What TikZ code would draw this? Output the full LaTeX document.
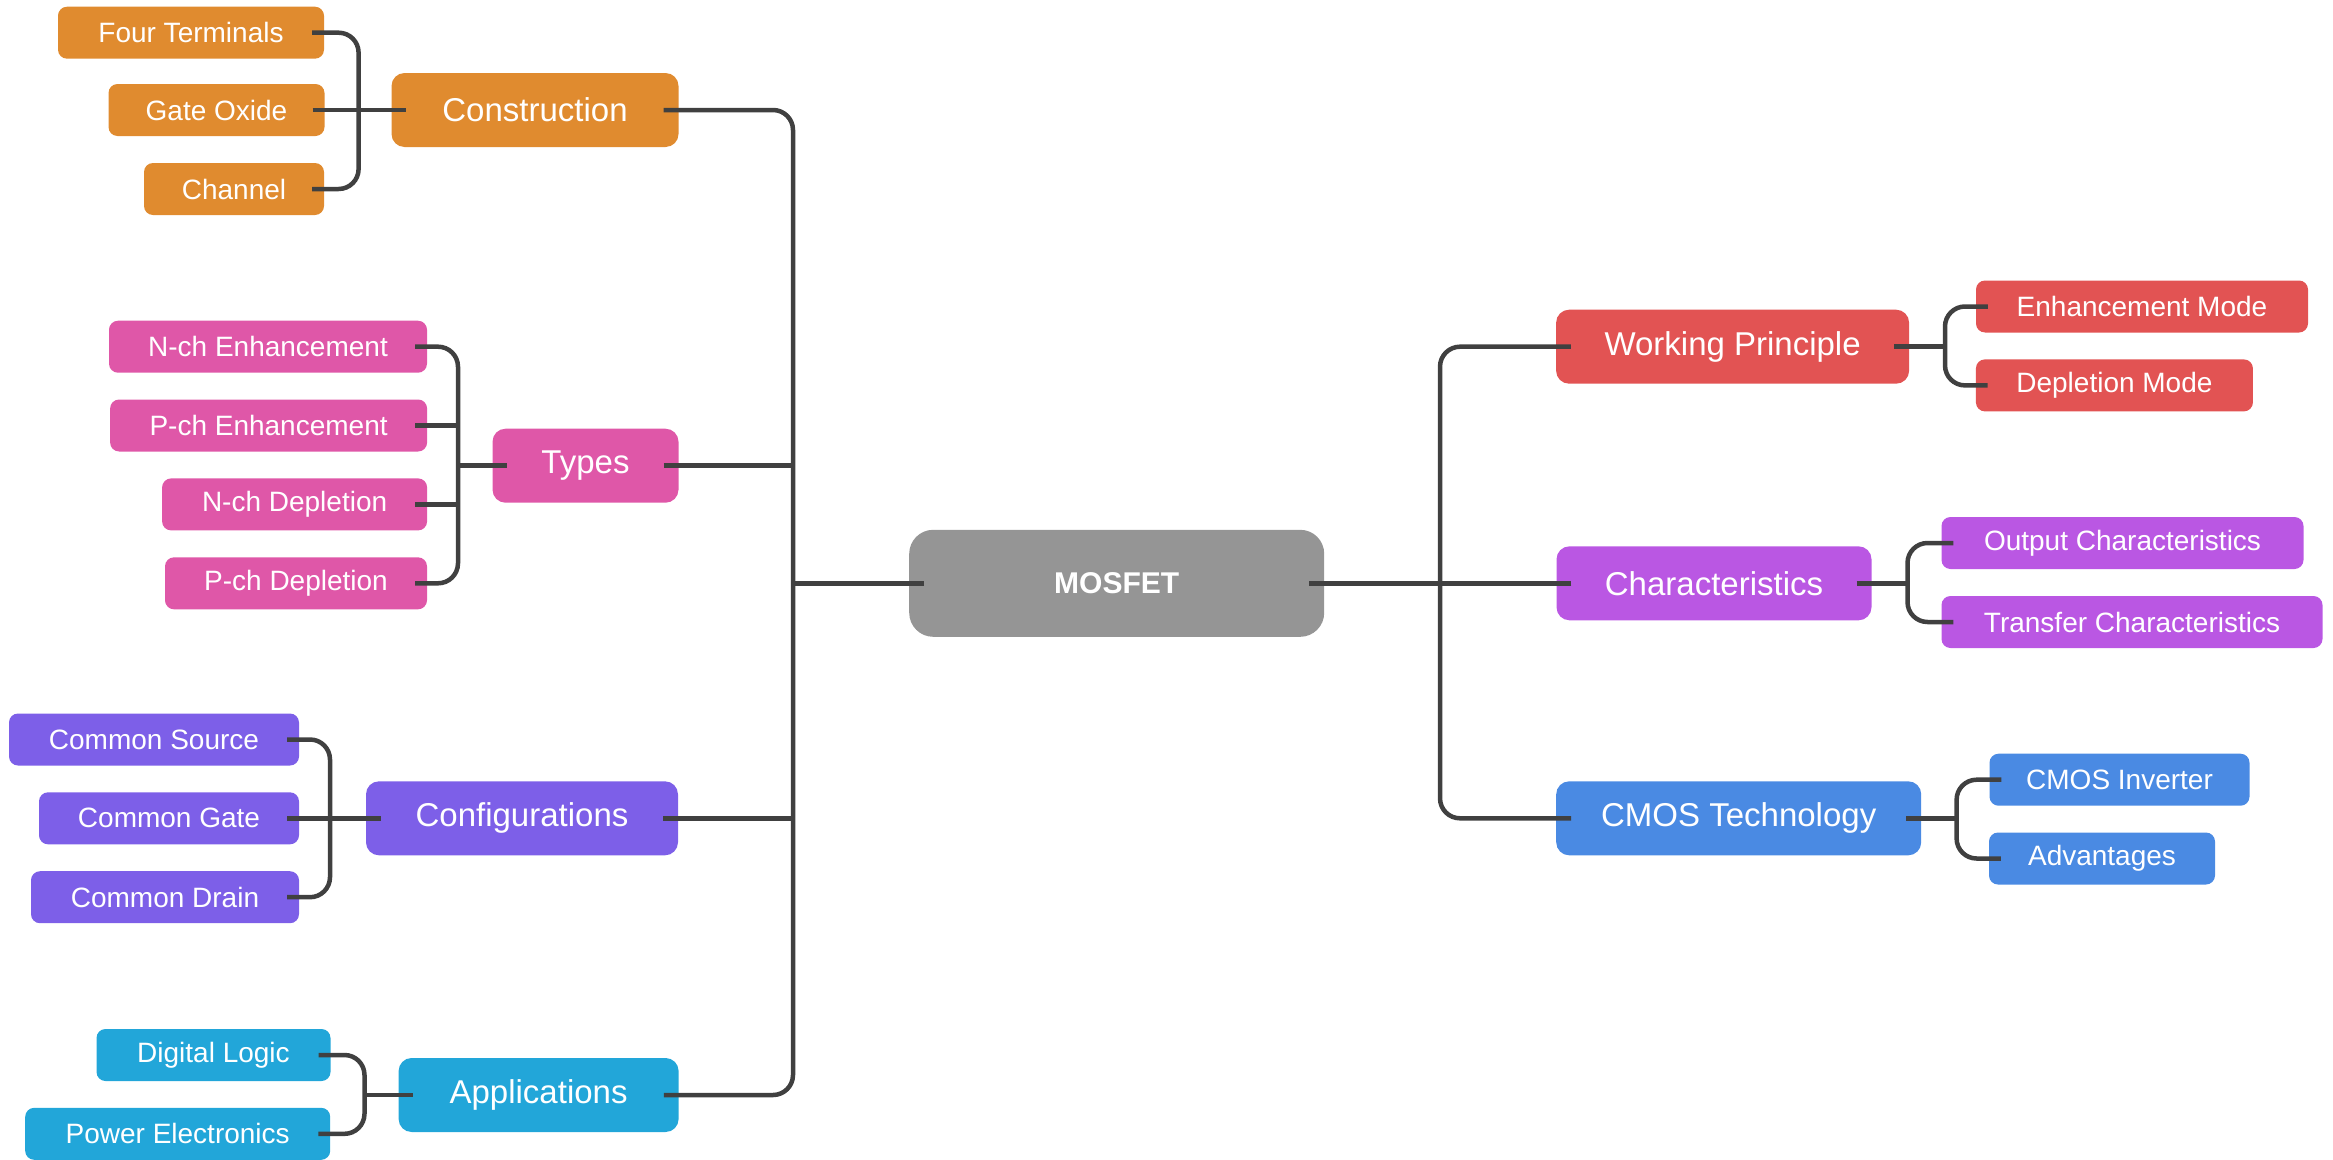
\documentclass[tikz,border=0pt]{standalone}
\usepackage{fontspec}
\setmainfont{Liberation Sans}
\usetikzlibrary{calc}
\definecolor{cOrange}{HTML}{E08B2F}
\definecolor{cPink}{HTML}{DF57A8}
\definecolor{cPurple}{HTML}{7D5FE8}
\definecolor{cCyan}{HTML}{22A6D9}
\definecolor{cRed}{HTML}{E25353}
\definecolor{cViolet}{HTML}{BA57E3}
\definecolor{cBlue}{HTML}{4A8AE3}
\definecolor{cGray}{HTML}{959595}
\definecolor{lineC}{HTML}{404040}
\begin{document}
\begin{tikzpicture}[x=1pt,y=-1pt,
  box/.style={rectangle, rounded corners=9pt, text=white, inner sep=0pt},
  leaf/.style={box, minimum height=52pt, font=\fontsize{28}{32}\selectfont},
  topic/.style={box, rounded corners=13pt, minimum height=74pt, font=\fontsize{33}{38}\selectfont},
  root/.style={box, rounded corners=24pt, minimum height=107pt, minimum width=415pt, fill=cGray, font=\fontsize{30}{34}\selectfont\bfseries},
  conn/.style={draw=lineC, line width=4.5pt, rounded corners=20pt}
]
\useasboundingbox (0,0) rectangle (2333,1159);

% ---------- root ----------
\node[root] (mos) at (1116.7,583.3) {MOSFET};

% ---------- left branch: construction ----------
\node[topic, fill=cOrange, minimum width=287pt] (con) at (535,110) {Construction};
\node[leaf, fill=cOrange, minimum width=266pt] (ft) at (191,32.7) {Four Terminals};
\node[leaf, fill=cOrange, minimum width=216pt] (go) at (216.5,110) {Gate Oxide};
\node[leaf, fill=cOrange, minimum width=180pt] (ch) at (234,189) {Channel};

% ---------- left branch: types ----------
\node[topic, fill=cPink, minimum width=186pt] (typ) at (585.5,465.7) {Types};
\node[leaf, fill=cPink, minimum width=318pt] (nce) at (268,346.7) {N-ch Enhancement};
\node[leaf, fill=cPink, minimum width=317pt] (pce) at (268.6,425.5) {P-ch Enhancement};
\node[leaf, fill=cPink, minimum width=265pt] (ncd) at (294.6,504.4) {N-ch Depletion};
\node[leaf, fill=cPink, minimum width=262pt] (pcd) at (296,583.3) {P-ch Depletion};

% ---------- left branch: configurations ----------
\node[topic, fill=cPurple, minimum width=312pt] (cfg) at (522,818.3) {Configurations};
\node[leaf, fill=cPurple, minimum width=290pt] (cs) at (154,739.5) {Common Source};
\node[leaf, fill=cPurple, minimum width=260pt] (cg) at (169,818.3) {Common Gate};
\node[leaf, fill=cPurple, minimum width=268pt] (cd) at (165,897.2) {Common Drain};

% ---------- left branch: applications ----------
\node[topic, fill=cCyan, minimum width=280pt] (app) at (538.6,1095) {Applications};
\node[leaf, fill=cCyan, minimum width=234pt] (dl) at (213.5,1055) {Digital Logic};
\node[leaf, fill=cCyan, minimum width=305pt] (pe) at (177.7,1133.8) {Power Electronics};

% ---------- right branch: working principle ----------
\node[topic, fill=cRed, minimum width=353pt] (wp) at (1732.6,346.7) {Working Principle};
\node[leaf, fill=cRed, minimum width=332pt] (em) at (2142,306.5) {Enhancement Mode};
\node[leaf, fill=cRed, minimum width=277pt] (dm) at (2114.4,385.4) {Depletion Mode};

% ---------- right branch: characteristics ----------
\node[topic, fill=cViolet, minimum width=315pt] (chr) at (1714,583.3) {Characteristics};
\node[leaf, fill=cViolet, minimum width=362pt] (oc) at (2122.5,543) {Output Characteristics};
\node[leaf, fill=cViolet, minimum width=381pt] (tc) at (2132,622) {Transfer Characteristics};

% ---------- right branch: CMOS ----------
\node[topic, fill=cBlue, minimum width=365pt] (cmos) at (1738.7,818.3) {CMOS Technology};
\node[leaf, fill=cBlue, minimum width=260pt] (inv) at (2119.5,779.7) {CMOS Inverter};
\node[leaf, fill=cBlue, minimum width=226pt] (adv) at (2102,858.5) {Advantages};

% ---------- spine and bracket positions ----------
\coordinate (lsp) at (793,583.3);
\coordinate (rsp) at (1440,583.3);
\coordinate (bCon) at (358.6,0);
\coordinate (bTyp) at (458,0);
\coordinate (bCfg) at (330,0);
\coordinate (bApp) at (364.5,0);
\coordinate (bWp) at (1945,0);
\coordinate (bChr) at (1907.5,0);
\coordinate (bCmos) at (1956.6,0);

% ---------- main spines ----------
\draw[conn] ($(con.east)+(-15,0)$) -- (con.east -| lsp) -- (app.east -| lsp) -- ($(app.east)+(-15,0)$);
\draw[conn] ($(typ.east)+(-15,0)$) -- (typ.east -| lsp);
\draw[conn] ($(cfg.east)+(-15,0)$) -- (cfg.east -| lsp);
\draw[conn] ($(mos.west)+(15,0)$) -- (lsp);

\draw[conn] ($(wp.west)+(15,0)$) -- (wp.west -| rsp) -- (cmos.west -| rsp) -- ($(cmos.west)+(15,0)$);
\draw[conn] ($(chr.west)+(15,0)$) -- (chr.west -| rsp);
\draw[conn] ($(mos.east)+(-15,0)$) -- (rsp);

% ---------- left brackets ----------
\draw[conn] ($(ft.east)+(-12,0)$) -- (ft.east -| bCon) -- (ch.east -| bCon) -- ($(ch.east)+(-12,0)$);
\draw[conn] ($(go.east)+(-12,0)$) -- ($(con.west)+(15,0)$);

\draw[conn] ($(nce.east)+(-12,0)$) -- (nce.east -| bTyp) -- (pcd.east -| bTyp) -- ($(pcd.east)+(-12,0)$);
\draw[conn] ($(pce.east)+(-12,0)$) -- (pce.east -| bTyp);
\draw[conn] ($(ncd.east)+(-12,0)$) -- (ncd.east -| bTyp);
\draw[conn] (typ.west -| bTyp) -- ($(typ.west)+(15,0)$);

\draw[conn] ($(cs.east)+(-12,0)$) -- (cs.east -| bCfg) -- (cd.east -| bCfg) -- ($(cd.east)+(-12,0)$);
\draw[conn] ($(cg.east)+(-12,0)$) -- ($(cfg.west)+(15,0)$);

\draw[conn] ($(dl.east)+(-12,0)$) -- (dl.east -| bApp) -- (pe.east -| bApp) -- ($(pe.east)+(-12,0)$);
\draw[conn] (app.west -| bApp) -- ($(app.west)+(15,0)$);

% ---------- right brackets ----------
\draw[conn] ($(em.west)+(12,0)$) -- (em.west -| bWp) -- (dm.west -| bWp) -- ($(dm.west)+(12,0)$);
\draw[conn] ($(wp.east)+(-15,0)$) -- (wp.east -| bWp);

\draw[conn] ($(oc.west)+(12,0)$) -- (oc.west -| bChr) -- (tc.west -| bChr) -- ($(tc.west)+(12,0)$);
\draw[conn] ($(chr.east)+(-15,0)$) -- (chr.east -| bChr);

\draw[conn] ($(inv.west)+(12,0)$) -- (inv.west -| bCmos) -- (adv.west -| bCmos) -- ($(adv.west)+(12,0)$);
\draw[conn] ($(cmos.east)+(-15,0)$) -- (cmos.east -| bCmos);
\end{tikzpicture}
\end{document}
